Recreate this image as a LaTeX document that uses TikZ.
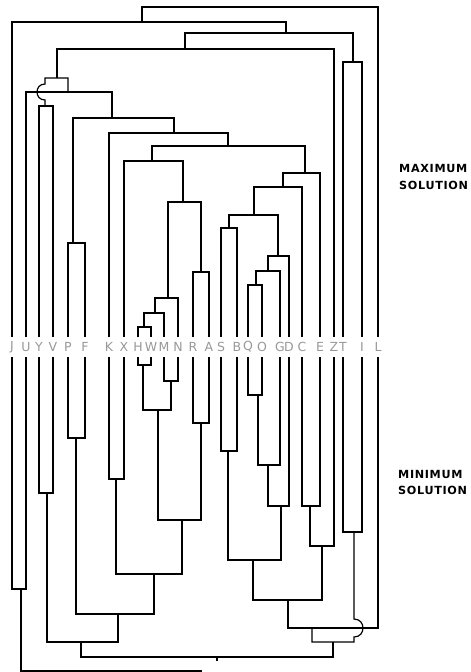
\documentclass[tikz,border=0pt]{standalone}
\usepackage{fontspec}
\newfontfamily\leaffont{DejaVu Sans}
\newfontfamily\capfont{DejaVu Sans}[LetterSpace=6]
\begin{document}
\begin{tikzpicture}[x=1pt,y=-1pt,
  tree/.style={line width=1.2pt,line join=miter,black},
  leaf/.style={inner sep=0pt,font=\leaffont\fontsize{12.5}{12.5}\selectfont,text=black!40},
  sidelabel/.style={inner sep=0pt,anchor=west,font=\capfont\bfseries\fontsize{11.2}{12}\selectfont}]
\fill[white] (0,0) rectangle (471,672);
\useasboundingbox (0,0) rectangle (471,672);
% merge macro: children a,b ; bar y ; stem x ; name
\newcommand\mergeab[5]{%
  \coordinate (#5) at (#4,#3);
  \draw[tree] (#1) -- (#1 |- #5) -- (#2 |- #5) -- (#2);}
% leaves
\foreach \n/\xx in {J/12,U/26,Y/39,V/53,P/68,F/85,K/109,X/124,H/138,W/151,M/164,N/178,R/193,A/209,S/221,B/237,Q/248,O/262,G/280,D/289,C/302,E/320,Z/334,T/343,I/362,L/378}{
  \node[leaf] (\n) at (\xx,347) {\n};
  \coordinate (u\n) at (\xx,337);
  \coordinate (l\n) at (\xx,357);
}
% ---------- upper tree (maximum solution)
\mergeab{uH}{uW}{327}{144}{u1}
\mergeab{u1}{uM}{313}{155}{u2}
\mergeab{u2}{uN}{298}{168}{u3}
\mergeab{uR}{uA}{272}{201}{u4}
\mergeab{u3}{u4}{202}{183}{u5}
\mergeab{uX}{u5}{161}{152}{u6}
\mergeab{uQ}{uO}{285}{256}{u7}
\mergeab{u7}{uG}{271}{268}{u8}
\mergeab{u8}{uD}{256}{278}{u9}
\mergeab{uS}{uB}{228}{229}{u10}
\mergeab{u10}{u9}{215}{254}{u11}
\mergeab{u11}{uC}{187}{283}{u12}
\mergeab{u12}{uE}{173}{305}{u13}
\mergeab{u6}{u13}{146}{228}{u14}
\mergeab{uK}{u14}{133}{174}{u15}
\mergeab{uP}{uF}{243}{73}{u16}
\mergeab{u16}{u15}{118}{112}{u17}
\mergeab{uU}{u17}{92}{68}{u18}
\mergeab{uY}{uV}{106}{45}{u19}
\coordinate (u20) at (57,78);
\draw[tree] (u19) -- (45,100) .. controls (34.3,100) and (34.3,84) .. (45,84)
  -- (u19 |- u20) -- (u18 |- u20) -- (u18);
\mergeab{u20}{uZ}{49}{185}{u21}
\mergeab{uT}{uI}{62}{353}{u22}
\mergeab{u21}{u22}{33}{286}{u23}
\mergeab{uJ}{u23}{22}{142}{u24}
\mergeab{u24}{uL}{7}{260}{u25}
% ---------- lower tree (minimum solution)
\mergeab{lH}{lW}{365}{143}{l1}
\mergeab{lM}{lN}{381}{171}{l2}
\mergeab{l1}{l2}{410}{158}{l3}
\mergeab{lQ}{lO}{395}{258}{l4}
\mergeab{lR}{lA}{423}{201}{l5}
\mergeab{lP}{lF}{438}{76}{l6}
\mergeab{lS}{lB}{451}{228}{l7}
\mergeab{l4}{lG}{465}{268}{l8}
\mergeab{lK}{lX}{479}{116}{l9}
\mergeab{lY}{lV}{493}{47}{l10}
\mergeab{l8}{lD}{506}{281}{l11}
\mergeab{lC}{lE}{506}{310}{l12}
\mergeab{l3}{l5}{520}{182}{l13}
\mergeab{lT}{lI}{532}{354}{l14}
\mergeab{l12}{lZ}{546}{322}{l15}
\mergeab{l7}{l11}{560}{253}{l16}
\mergeab{l9}{l13}{574}{154}{l17}
\mergeab{lJ}{lU}{589}{21}{l18}
\mergeab{l16}{l15}{600}{288}{l19}
\mergeab{l6}{l17}{614}{118}{l20}
\mergeab{l19}{lL}{628}{312}{l21}
\mergeab{l10}{l20}{642}{81}{l22}
\coordinate (l23) at (333,642);
\draw[tree] (l21) -- (l21 |- l23) -- (354,642) -- (354,637)
  .. controls (366,637) and (366,619) .. (354,619) -- (l14);
\mergeab{l22}{l23}{657}{217}{l24}
\coordinate (rootend) at (202,671);
\draw[tree] (l18) -- (l18 |- rootend) -- (rootend);
\draw[tree] (l24) -- ++(0,4);
% side labels
\node[sidelabel] (max1) at (399,168.5) {MAXIMUM};
\node[sidelabel] (max2) at (399,185.5) {SOLUTION};
\node[sidelabel] (min1) at (398,474) {MINIMUM};
\node[sidelabel] (min2) at (398,490) {SOLUTION};
\end{tikzpicture}
\end{document}
